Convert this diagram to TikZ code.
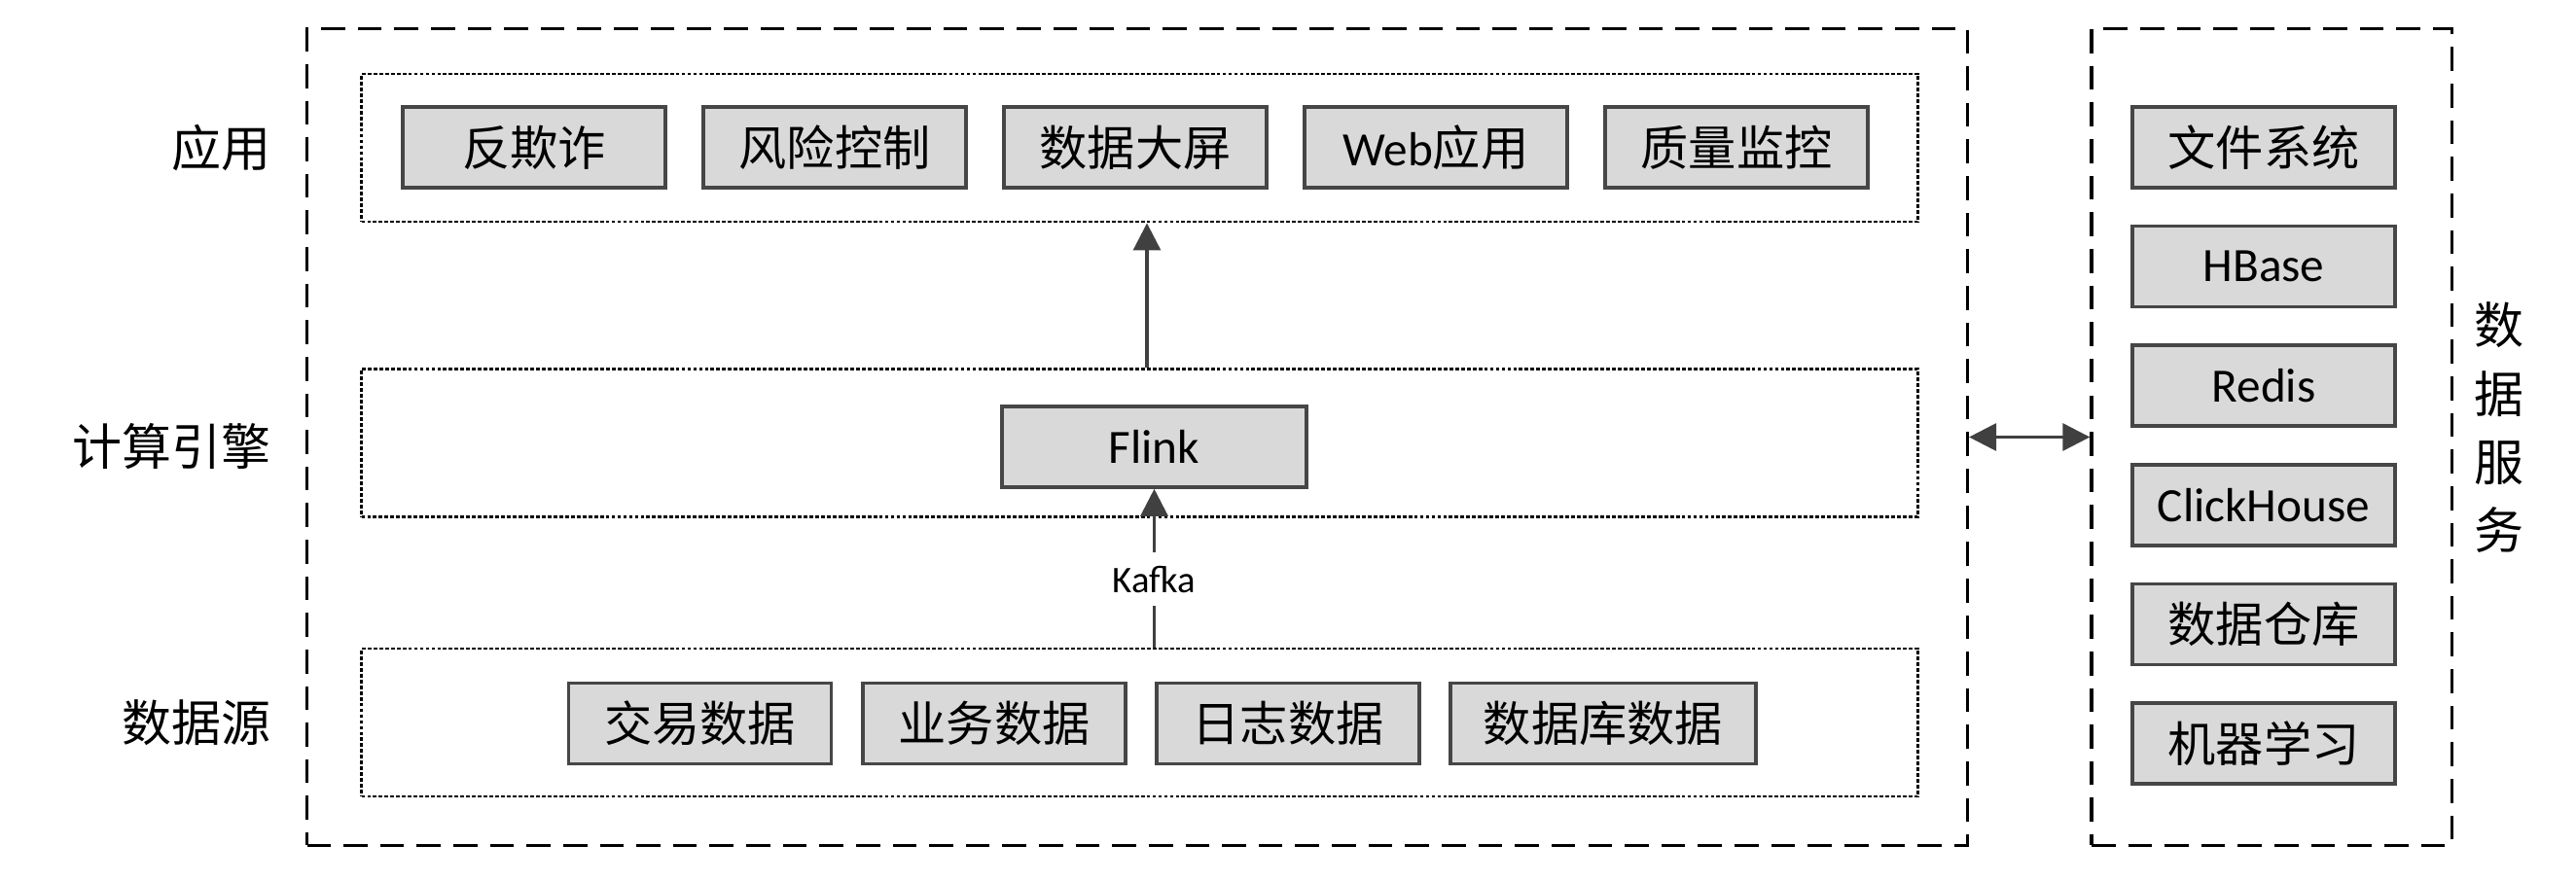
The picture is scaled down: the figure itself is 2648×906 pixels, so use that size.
\documentclass[tikz,border=0pt]{standalone}
\usepackage{fontspec}
\setmainfont{Noto Sans CJK SC}
\newfontfamily\latin{Carlito}
\usetikzlibrary{arrows.meta}

\definecolor{boxfill}{RGB}{217,217,217}
\definecolor{boxline}{RGB}{70,70,70}
\definecolor{arrowc}{RGB}{64,64,64}

\tikzset{
    block/.style={draw=boxline, fill=boxfill, line width=1pt, minimum width=2.7cm,
        minimum height=0.83cm, inner sep=0pt, font=\fontsize{14pt}{17pt}\selectfont},
    layer/.style={draw, dash pattern=on 1.1pt off 0.6pt, line width=0.8pt,
        minimum width=15.99cm, minimum height=1.52cm, inner sep=0pt},
    group/.style={draw, dash pattern=on 7pt off 3.7pt, line width=0.9pt,
        minimum height=8.39cm, inner sep=0pt},
    side/.style={anchor=east, inner sep=0pt, font=\fontsize{14.5pt}{17pt}\selectfont},
    flow/.style={-{Triangle[length=0.28cm,width=0.28cm]}, draw=arrowc, line width=0.9pt}
}

\begin{document}
\begin{tikzpicture}[x=0.01cm, y=-0.01cm]
        \useasboundingbox (0,0) rectangle (2648,906);

        \node[group, minimum width=17.06cm] (platform) at (1169,449.5) {};
        \node[group, minimum width=3.70cm] (storage) at (2335,449.5) {};

        \node[layer] (apps) at (1171.5,152) {};
        \node[layer] (engine) at (1171.5,455.5) {};
        \node[layer] (sources) at (1171.5,743) {};

        \node[block] (fraud) at (549,151.5) {反欺诈};
        \node[block] (risk) at (858,151.5) {风险控制};
        \node[block] (screen) at (1167,151.5) {数据大屏};
        \node[block] (web) at (1476,151.5) {{\latin Web}应用};
        \node[block] (quality) at (1785,151.5) {质量监控};

        \node[block, minimum width=3.13cm] (flink) at (1186.5,459.5) {\latin Flink};

        \node[block] (trade) at (719.5,744) {交易数据};
        \node[block] (biz) at (1022,744) {业务数据};
        \node[block] (log) at (1324,744) {日志数据};
        \node[block, minimum width=3.14cm] (db) at (1648,744) {数据库数据};

        \node[block] (fs) at (2327,151.5) {文件系统};
        \node[block] (hbase) at (2327,274) {\latin HBase};
        \node[block] (redis) at (2327,396.5) {\latin Redis};
        \node[block] (ch) at (2327,519.5) {\latin ClickHouse};
        \node[block] (dw) at (2327,642) {数据仓库};
        \node[block] (ml) at (2327,764.5) {机器学习};

        \node[side] (lapp) at (279,152) {应用};
        \node[side] (lengine) at (279,459) {计算引擎};
        \node[side] (lsrc) at (279,743) {数据源};
        \node[align=center, font=\fontsize{14.5pt}{20pt}\selectfont] (lstore) at (2569,440) {数\\据\\服\\务};

        \draw[flow] ([xshift=0.075cm]engine.north) -- ([xshift=0.075cm]apps.south);
        \draw[flow] (sources.north -| flink.south) -- node[pos=0.43, fill=white, inner xsep=1pt, inner ysep=4pt,
            font=\latin\fontsize{11pt}{13pt}\selectfont] (kafka) {Kafka} (flink.south);
        \draw[flow, {Triangle[length=0.28cm,width=0.28cm]}-{Triangle[length=0.28cm,width=0.28cm]}]
            (platform.east) -- (platform.east -| storage.west);
    \end{tikzpicture}
\end{document}
